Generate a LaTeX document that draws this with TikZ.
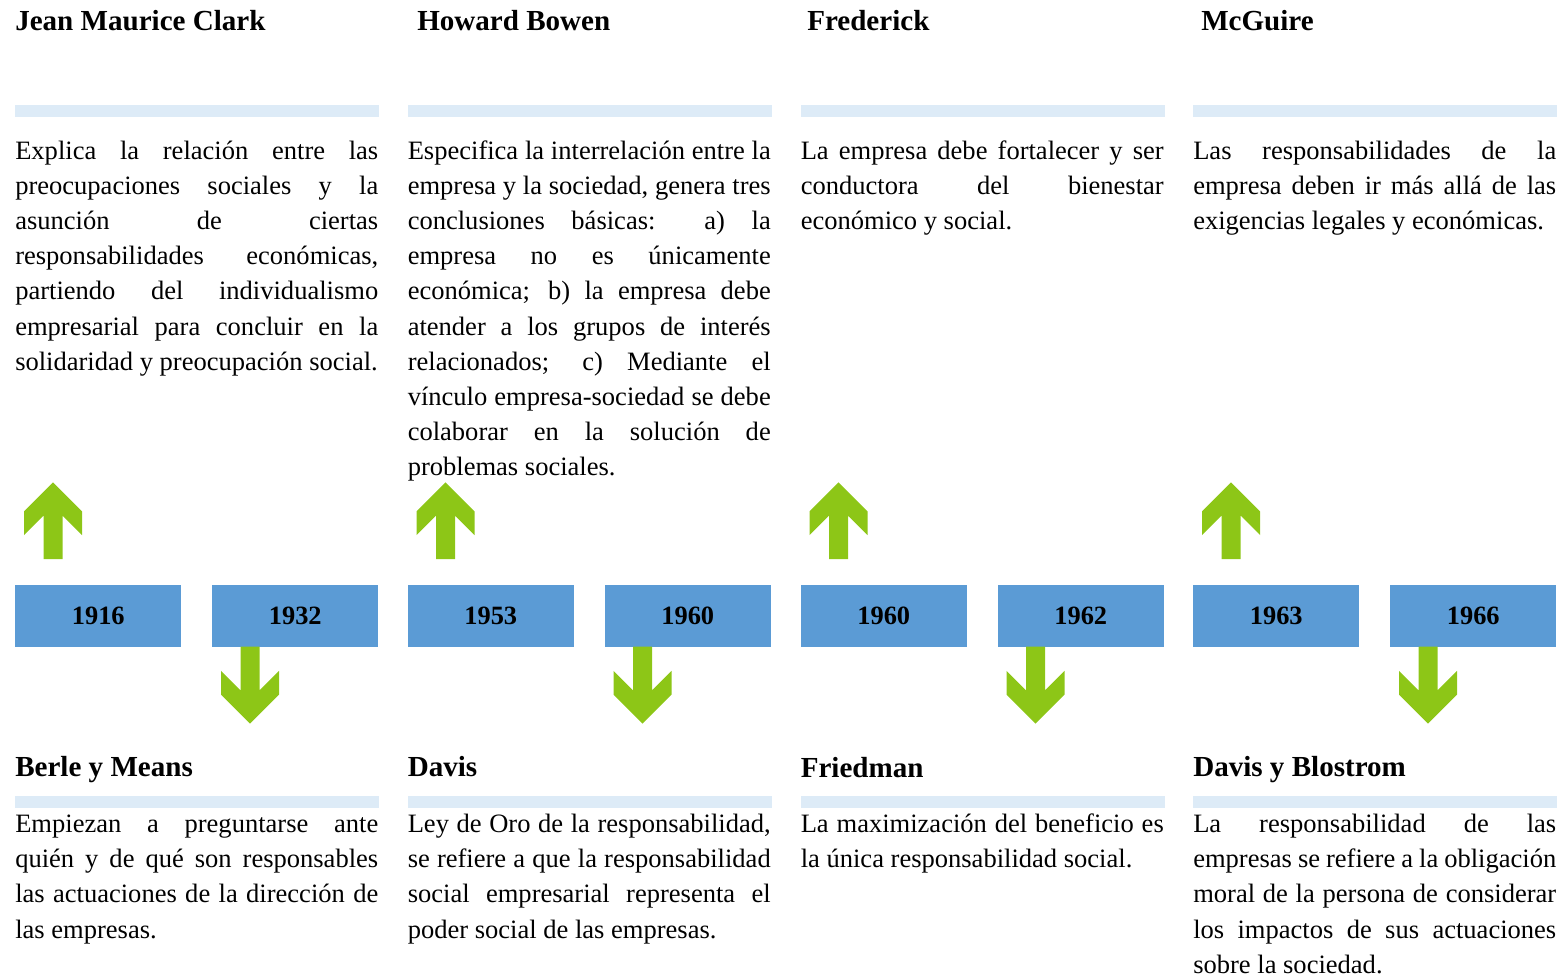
\documentclass[tikz,border=0pt]{standalone}
\usepackage{fontspec}
\setmainfont{Liberation Serif}
\usetikzlibrary{calc}
\definecolor{arrowgreen}{RGB}{141,198,23}
\definecolor{boxblue}{RGB}{91,155,213}
\definecolor{barblue}{RGB}{221,235,247}
\hyphenpenalty=10000
\exhyphenpenalty=10000
\tolerance=10000
\hbadness=10000
\tikzset{
  uparrow/.pic={\fill[arrowgreen] (0,-76.7) -- (29,-47.7) -- (29,-24) -- (9.5,-43.5) -- (9.5,0) -- (-9.5,0) -- (-9.5,-43.5) -- (-29,-24) -- (-29,-47.7) -- cycle;},
  downarrow/.pic={\fill[arrowgreen] (0,77) -- (29,48) -- (29,24.3) -- (9.5,43.8) -- (9.5,0) -- (-9.5,0) -- (-9.5,43.8) -- (-29,24.3) -- (-29,48) -- cycle;}
}
\begin{document}
\begin{tikzpicture}[x=0.75pt,y=-0.75pt,
  bodytext/.style={anchor=base west, inner sep=0pt, text width=272.25pt, align=justify,
    font=\fontsize{19.9}{26.4}\selectfont},
  titletext/.style={anchor=base west, inner sep=0pt, font=\bfseries\fontsize{21.8}{26}\selectfont},
  barline/.style={anchor=north west, inner sep=0pt, fill=barblue, minimum width=273pt, minimum height=9pt},
  yearbox/.style={anchor=north west, inner sep=0pt, fill=boxblue, minimum width=124.5pt, minimum height=46.5pt,
    font=\bfseries\fontsize{19.8}{23}\selectfont}]
\useasboundingbox (0,0) rectangle (1561,976);

% ---------- top titles ----------
\node[titletext] (ht1) at (15,30) {Jean Maurice Clark};
\node[titletext] (ht2) at (417,30) {Howard Bowen};
\node[titletext] (ht3) at (807,30) {Frederick};
\node[titletext] (ht4) at (1201,30) {McGuire};

% ---------- top bars ----------
\node[barline] (tb1) at (15,105) {};
\node[barline] (tb2) at (407.5,105) {};
\node[barline] (tb3) at (800.5,105) {};
\node[barline] (tb4) at (1193,105) {};

% ---------- top texts ----------
\node[bodytext] (tt1) at (15,159) {Explica la relación entre las\linebreak preocupaciones sociales y la\linebreak asunción de ciertas\linebreak responsabilidades económicas,\linebreak partiendo del individualismo\linebreak empresarial para concluir en la\linebreak solidaridad y preocupación social.};
\node[bodytext] (tt2) at (407.5,159) {Especifica la interrelación entre la\linebreak empresa y la sociedad, genera tres\linebreak conclusiones básicas: a) la\linebreak empresa no es únicamente\linebreak económica; b) la empresa debe\linebreak atender a los grupos de interés\linebreak relacionados; c) Mediante el\linebreak vínculo empresa-sociedad se debe\linebreak colaborar en la solución de\linebreak problemas sociales.};
\node[bodytext] (tt3) at (800.5,159) {La empresa debe fortalecer y ser\linebreak conductora del bienestar\linebreak económico y social.};
\node[bodytext] (tt4) at (1193,159) {Las responsabilidades de la\linebreak empresa deben ir más allá de las\linebreak exigencias legales y económicas.};

% ---------- year boxes ----------
\node[yearbox] (y1916) at (15,585) {1916};
\node[yearbox] (y1932) at (212,585) {1932};
\node[yearbox] (y1953) at (407.5,585) {1953};
\node[yearbox] (y1960a) at (604.5,585) {1960};
\node[yearbox] (y1960b) at (800.5,585) {1960};
\node[yearbox] (y1962) at (997.5,585) {1962};
\node[yearbox] (y1963) at (1193,585) {1963};
\node[yearbox] (y1966) at (1390,585) {1966};

% ---------- arrows ----------
\pic at ($(y1916.north west)+(38,-26)$) {uparrow};
\pic at ($(y1953.north west)+(38,-26)$) {uparrow};
\pic at ($(y1960b.north west)+(38,-26)$) {uparrow};
\pic at ($(y1963.north west)+(38,-26)$) {uparrow};
\pic at ($(y1932.south west)+(38,-1)$) {downarrow};
\pic at ($(y1960a.south west)+(38,-1)$) {downarrow};
\pic at ($(y1962.south west)+(38,-1)$) {downarrow};
\pic at ($(y1966.south west)+(38,-1)$) {downarrow};

% ---------- bottom titles ----------
\node[titletext] (bt1) at (15,776) {Berle y Means};
\node[titletext] (bt2) at (407.5,776) {Davis};
\node[titletext] (bt3) at (800.5,777) {Friedman};
\node[titletext] (bt4) at (1193,776) {Davis y Blostrom};

% ---------- bottom bars ----------
\node[barline] (bb1) at (15,796) {};
\node[barline] (bb2) at (407.5,796) {};
\node[barline] (bb3) at (800.5,796) {};
\node[barline] (bb4) at (1193,796) {};

% ---------- bottom texts ----------
\node[bodytext] (bx1) at (15,832.5) {Empiezan a preguntarse ante\linebreak quién y de qué son responsables\linebreak las actuaciones de la dirección de\linebreak las empresas.};
\node[bodytext] (bx2) at (407.5,832.5) {Ley de Oro de la responsabilidad,\linebreak se refiere a que la responsabilidad\linebreak social empresarial representa el\linebreak poder social de las empresas.};
\node[bodytext] (bx3) at (800.5,832.5) {La maximización del beneficio es\linebreak la única responsabilidad social.};
\node[bodytext] (bx4) at (1193,832.5) {La responsabilidad de las\linebreak empresas se refiere a la obligación\linebreak moral de la persona de considerar\linebreak los impactos de sus actuaciones\linebreak sobre la sociedad.};
\end{tikzpicture}
\end{document}
